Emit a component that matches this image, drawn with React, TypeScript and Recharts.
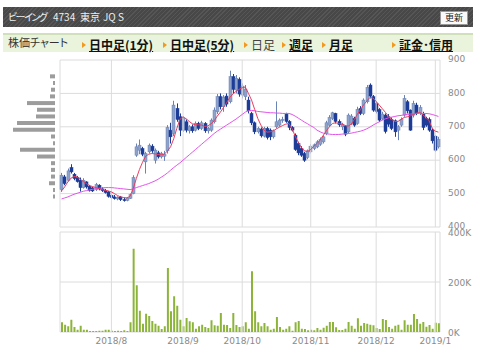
import React from "react";
import {
  Bar,
  BarChart,
  CartesianGrid,
  ComposedChart,
  Line,
  ReferenceLine,
  XAxis,
  YAxis,
} from "recharts";

// daily candles, 2018/7/9 .. 2019/1/7
const opens = [
  512, 550, 540, 578, 558, 548, 540, 518, 535, 522, 517, 512, 525, 514, 510, 505, 495, 490, 484, 490,
  482, 480, 486, 500, 615, 630, 635, 595, 625, 642, 600, 622, 610, 612, 628, 690, 680, 755, 730, 690,
  715, 688, 700, 690, 710, 695, 710, 688, 690, 715, 745, 790, 760, 792, 775, 850, 810, 842, 795, 790,
  780, 740, 712, 685, 693, 672, 695, 690, 670, 700, 705, 720, 738, 716, 698, 675, 650, 635, 620, 608,
  625, 635, 640, 648, 655, 680, 705, 725, 740, 716, 700, 702, 685, 710, 725, 710, 755, 740, 775, 825,
  790, 770, 752, 725, 735, 730, 722, 718, 690, 705, 735, 775, 750, 735, 765, 742, 738, 725, 722, 690,
  672, 640,
];
const highs = [
  562, 556, 575, 588, 562, 553, 548, 546, 537, 526, 520, 532, 528, 519, 514, 508, 500, 496, 492, 493,
  488, 490, 500, 555, 650, 662, 640, 625, 650, 648, 635, 628, 625, 628, 705, 712, 778, 770, 740, 730,
  722, 705, 707, 716, 715, 718, 714, 700, 725, 758, 798, 800, 795, 800, 868, 858, 855, 848, 830, 825,
  790, 745, 716, 700, 698, 700, 700, 695, 692, 776, 725, 730, 742, 720, 702, 680, 655, 642, 625, 632,
  648, 650, 660, 668, 675, 718, 735, 745, 742, 722, 712, 705, 740, 738, 730, 760, 762, 785, 825, 830,
  795, 775, 756, 745, 740, 738, 728, 722, 705, 728, 795, 780, 752, 778, 772, 765, 745, 730, 728, 695,
  675, 670,
];
const lows = [
  505, 525, 536, 560, 540, 533, 506, 515, 515, 506, 505, 508, 510, 505, 500, 488, 483, 482, 480, 478,
  476, 477, 484, 498, 610, 618, 612, 560, 620, 622, 590, 605, 605, 598, 620, 650, 672, 715, 672, 685,
  683, 680, 682, 686, 690, 690, 682, 680, 685, 710, 738, 752, 745, 760, 770, 800, 800, 790, 785, 780,
  740, 705, 678, 680, 668, 668, 662, 660, 665, 695, 700, 712, 712, 690, 686, 628, 615, 610, 595, 603,
  620, 630, 636, 643, 650, 675, 700, 720, 710, 700, 690, 672, 680, 705, 700, 706, 735, 735, 770, 785,
  745, 740, 714, 720, 680, 700, 690, 670, 660, 700, 730, 740, 688, 728, 735, 735, 690, 700, 685, 650,
  625, 635,
];
const closes = [
  555, 530, 568, 565, 545, 536, 518, 540, 520, 510, 508, 527, 514, 509, 503, 492, 488, 485, 489, 482,
  480, 487, 497, 548, 640, 645, 618, 620, 645, 628, 630, 610, 620, 618, 698, 670, 765, 722, 690, 725,
  690, 700, 688, 710, 695, 712, 688, 695, 720, 750, 790, 760, 788, 768, 850, 812, 845, 798, 822, 812,
  748, 712, 685, 695, 673, 695, 668, 670, 688, 715, 720, 722, 716, 698, 690, 632, 622, 615, 600, 628,
  642, 646, 655, 662, 670, 712, 728, 742, 716, 706, 708, 678, 735, 732, 705, 752, 740, 780, 818, 792,
  750, 746, 720, 738, 686, 708, 695, 685, 700, 722, 785, 748, 690, 770, 742, 758, 698, 705, 690, 658,
  630, 662,
];
// short (red) and long (magenta) moving averages as drawn
const maShort = [
  508, 520, 535, 546, 551, 550, 543, 536, 530, 524, 521, 518, 515, 512, 510, 508, 505, 500, 494, 490,
  488, 487, 492, 515, 545, 572, 594, 612, 618, 620, 619, 617, 616, 618, 628, 640, 664, 695, 722, 730,
  724, 716, 709, 706, 706, 705, 701, 703, 709, 718, 732, 744, 758, 772, 788, 798, 806, 812, 817, 819,
  800, 780, 752, 725, 705, 690, 684, 685, 688, 694, 699, 704, 708, 710, 695, 672, 654, 638, 628, 626,
  632, 642, 650, 660, 674, 688, 700, 710, 712, 710, 708, 704, 702, 708, 722, 738, 752, 766, 777, 788,
  786, 776, 765, 754, 743, 731, 722, 716, 716, 722, 728, 730, 733, 737, 741, 743, 736, 728, 718, 696,
  687, 684,
];
const maLong = [
  484, 487, 490, 494, 498, 501, 504, 507, 509, 511, 513, 515, 516, 517, 518, 518, 518, 517, 516, 515,
  514, 513, 512, 514, 518, 521, 524, 527, 530, 534, 538, 543, 549, 555, 562, 570, 578, 585, 592, 600,
  608, 616, 624, 632, 640, 648, 656, 664, 672, 680, 687, 693, 699, 705, 711, 717, 723, 730, 737, 744,
  748, 749, 748, 746, 745, 744, 743, 742, 742, 741, 741, 740, 740, 740, 737, 732, 726, 720, 714, 709,
  703, 698, 690, 685, 681, 679, 678, 677, 677, 677, 678, 679, 680, 681, 683, 685, 687, 690, 694, 699,
  705, 710, 715, 720, 724, 727, 729, 731, 733, 734, 736, 737, 738, 739, 740, 740, 740, 740, 739, 737,
  734, 731,
];
// volume, thousands of shares
const volumes = [
  39, 29, 23, 49, 20, 9, 25, 9, 9, 4, 4, 4, 5, 5, 9, 9, 5, 4, 5, 4,
  7, 4, 39, 333, 187, 85, 33, 73, 64, 44, 33, 25, 12, 23, 256, 83, 143, 105, 49, 23,
  56, 43, 39, 13, 23, 29, 20, 16, 47, 27, 25, 76, 29, 28, 16, 76, 28, 20, 23, 39,
  13, 243, 83, 39, 23, 36, 23, 9, 13, 60, 20, 9, 13, 23, 5, 39, 44, 13, 12, 7,
  9, 7, 16, 9, 17, 25, 40, 40, 19, 8, 8, 13, 40, 25, 13, 55, 25, 36, 33, 29,
  27, 16, 12, 52, 48, 20, 13, 25, 29, 9, 47, 29, 29, 72, 52, 33, 40, 21, 28, 13,
  37, 35,
];

const monthIdx = [16, 39, 58, 80, 101, 120];
const monthLabels = ["2018/8", "2018/9", "2018/10", "2018/11", "2018/12", "2019/1"];
const priceTicks = [400, 500, 600, 700, 800, 900];
const volTicks = [0, 200, 400];

// volume-by-price profile on the left
const profilePrices = [850, 830, 810, 790, 770, 750, 730, 710, 690, 670, 650, 630, 610, 590, 570, 550, 530, 510, 490];
const profileVol = [5, 2, 4, 5, 28, 18, 19, 38, 42, 4, 2, 35, 18, 4, 4, 4, 6, 2, 2];

const rows = closes.map((c, i) => ({
  i,
  open: opens[i],
  high: highs[i],
  low: lows[i],
  close: c,
  maShort: maShort[i],
  maLong: maLong[i],
  vol: volumes[i],
}));
const profile = profilePrices.map((p, k) => ({ price: p, vol: profileVol[k] }));

const UP = "#8fa2c9";
const UP_EDGE = "#6a82b4";
const DOWN = "#1d3c98";
const GRID = "#dcdcdc";
const tickStyle = { fontSize: 9, fill: "#8a8a8a", fontFamily: "DejaVu Sans" };

function Candle(props: any) {
  const { x, y, width, height, payload } = props;
  if (x == null || y == null) return null;
  const top = Math.min(y, y + height);
  const bottom = Math.max(y, y + height);
  const span = payload.high - payload.low;
  const toY = (v: number) => (span === 0 ? top : top + ((payload.high - v) / span) * (bottom - top));
  const up = payload.close >= payload.open;
  const cx = Math.round(x + width / 2) + 0.5;
  const bTop = toY(Math.max(payload.open, payload.close));
  const bBot = toY(Math.min(payload.open, payload.close));
  return (
    <g>
      <line x1={cx} x2={cx} y1={top} y2={bottom} stroke={up ? UP_EDGE : DOWN} strokeWidth={1} />
      <rect
        x={cx - 1.5}
        y={bTop}
        width={3}
        height={Math.max(1, bBot - bTop)}
        fill={up ? UP : DOWN}
        stroke={up ? UP_EDGE : DOWN}
        strokeWidth={0.5}
      />
    </g>
  );
}

function frame({ offset }: any) {
  return [offset.left, offset.left + offset.width];
}

function Tri() {
  return (
    <span
      style={{
        display: "inline-block",
        width: 0,
        height: 0,
        borderLeft: "4px solid #f39a1e",
        borderTop: "3px solid transparent",
        borderBottom: "3px solid transparent",
        verticalAlign: "middle",
      }}
    />
  );
}

const navFont = { fontFamily: "'Noto Sans CJK JP'", fontFeatureSettings: '"palt"' };
const links = [
  { x: 82, label: "日中足(1分)", active: true },
  { x: 163, label: "日中足(5分)", active: true },
  { x: 244, label: "日足", active: false },
  { x: 282, label: "週足", active: true },
  { x: 322, label: "月足", active: true },
  { x: 392, label: "証金･信用", active: true },
];

export default function App() {
  return (
    <div style={{ position: "absolute", left: 0, top: 0, width: 480, height: 359, background: "#fff", overflow: "hidden" }}>
      <div
        style={{
          position: "absolute",
          left: 3,
          top: 7,
          width: 470,
          height: 20,
          background: "repeating-linear-gradient(135deg,#565656 0px,#565656 1px,#484848 1px,#484848 3px)",
          color: "#eee",
          fontSize: 10,
          lineHeight: "20px",
          ...navFont,
        }}
      >
        <span style={{ position: "absolute", left: 5, top: 0, letterSpacing: -1.5 }}>ビーイング</span>
        <span style={{ position: "absolute", left: 50, top: 0 }}>4734</span>
        <span style={{ position: "absolute", left: 77, top: 0 }}>東京</span>
        <span style={{ position: "absolute", left: 100, top: 0 }}>JQ S</span>
        <div
          style={{
            position: "absolute",
            left: 437,
            top: 4,
            width: 26,
            height: 12,
            background: "#fafafa",
            border: "1px solid #999",
            color: "#222",
            fontSize: 9,
            lineHeight: "12px",
            textAlign: "center",
          }}
        >
          更新
        </div>
      </div>

      <div
        style={{
          position: "absolute",
          left: 3,
          top: 33,
          width: 470,
          height: 17,
          background: "#eaf4dc",
          borderTop: "2px solid #cfe0bb",
          lineHeight: "15px",
          ...navFont,
        }}
      >
        <span style={{ position: "absolute", left: 5, top: 0, fontSize: 11, color: "#333" }}>株価チャート</span>
        {links.map((l) => (
          <span key={l.label} style={{ position: "absolute", left: l.x - 3, top: 0, whiteSpace: "nowrap" }}>
            <Tri />
            <span
              style={{
                marginLeft: 3,
                fontSize: 12,
                fontWeight: l.active ? "bold" : "normal",
                textDecoration: l.active ? "underline" : "none",
                color: l.active ? "#111" : "#444",
                verticalAlign: "middle",
              }}
            >
              {l.label}
            </span>
          </span>
        ))}
      </div>

      <div style={{ position: "absolute", left: 0, top: 55 }}>
        <BarChart width={56} height={180} data={profile} layout="vertical" margin={{ top: 5, right: 1, bottom: 8, left: 0 }}>
          <XAxis type="number" domain={[0, 55]} reversed hide />
          <YAxis type="number" dataKey="price" domain={[400, 900]} reversed hide />
          <Bar dataKey="vol" fill="#9c9c9c" barSize={4} isAnimationActive={false} />
        </BarChart>
      </div>

      <div style={{ position: "absolute", left: 0, top: 55 }}>
        <ComposedChart width={480} height={180} data={rows} margin={{ top: 5, right: 0, bottom: 8, left: 60 }}>
          <CartesianGrid stroke={GRID} verticalCoordinatesGenerator={frame} />
          <XAxis dataKey="i" type="category" hide />
          <YAxis
            orientation="right"
            domain={[400, 900]}
            ticks={priceTicks}
            width={40}
            axisLine={false}
            tickLine={false}
            tick={{ ...tickStyle, dy: -1 }}
            interval={0}
          />
          {monthIdx.map((m) => (
            <ReferenceLine key={m} x={m} stroke={GRID} />
          ))}
          <Bar dataKey={(d: any) => [d.low, d.high]} shape={Candle} isAnimationActive={false} />
          <Line dataKey="maLong" stroke="#e354ea" strokeWidth={1} dot={false} isAnimationActive={false} />
          <Line dataKey="maShort" stroke="#ec3c5e" strokeWidth={1} dot={false} isAnimationActive={false} />
        </ComposedChart>
      </div>

      <div style={{ position: "absolute", left: 0, top: 228 }}>
        <ComposedChart width={480} height={128} data={rows} margin={{ top: 4, right: 0, bottom: 0, left: 60 }}>
          <CartesianGrid stroke={GRID} verticalCoordinatesGenerator={frame} />
          <XAxis
            dataKey="i"
            type="category"
            ticks={monthIdx}
            interval={0}
            height={24}
            axisLine={false}
            tickLine={false}
            tickMargin={0}
            tick={tickStyle}
            tickFormatter={(v: number) => monthLabels[monthIdx.indexOf(v)] ?? ""}
          />
          <YAxis
            orientation="right"
            domain={[0, 400]}
            ticks={volTicks}
            width={40}
            axisLine={false}
            tickLine={false}
            tick={{ ...tickStyle, dy: 1 }}
            interval={0}
            tickFormatter={(v: number) => `${v}K`}
          />
          {monthIdx.map((m) => (
            <ReferenceLine key={m} x={m} stroke={GRID} />
          ))}
          <Bar dataKey="vol" fill="#8db43a" barSize={2} isAnimationActive={false} />
        </ComposedChart>
      </div>
    </div>
  );
}
